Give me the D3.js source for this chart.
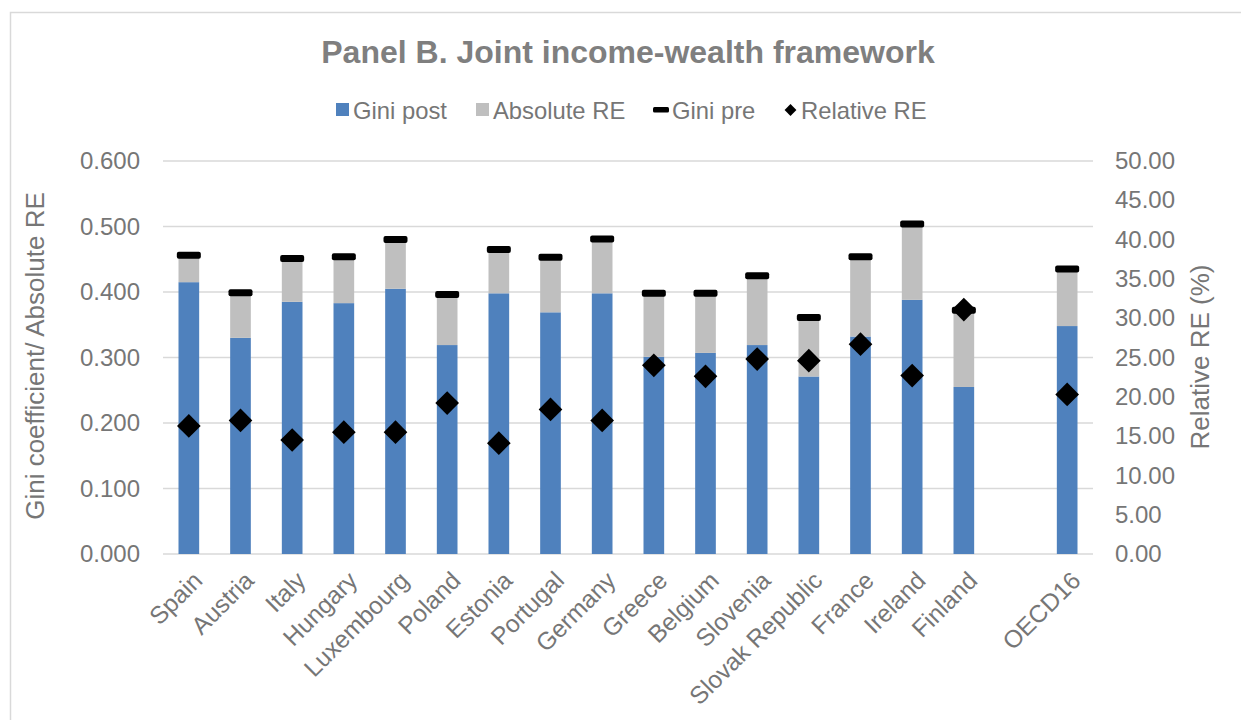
<!DOCTYPE html>
<html>
<head>
<meta charset="utf-8">
<script src="https://cdn.jsdelivr.net/npm/d3@7"></script>
<style>
  html, body { margin: 0; padding: 0; background: #fff; }
  svg { display: block; font-family: "Liberation Sans", Arial, sans-serif; }
</style>
</head>
<body>
<svg id="chart" width="1241" height="720"></svg>
<script>
// Countries (empty slot before the OECD average)
const categories = ["Spain", "Austria", "Italy", "Hungary", "Luxembourg", "Poland", "Estonia",
  "Portugal", "Germany", "Greece", "Belgium", "Slovenia", "Slovak Republic", "France",
  "Ireland", "Finland", "", "OECD16"];

// Gini coefficient after redistribution
const giniPost = [0.415, 0.330, 0.385, 0.383, 0.405, 0.319, 0.398, 0.369, 0.398, 0.301,
  0.307, 0.319, 0.271, 0.332, 0.388, 0.255, null, 0.348];

// Gini coefficient before redistribution
const giniPre = [0.456, 0.399, 0.451, 0.454, 0.480, 0.396, 0.465, 0.453, 0.481, 0.398,
  0.398, 0.425, 0.361, 0.454, 0.504, 0.372, null, 0.435];

// Absolute redistributive effect (pre minus post)
const absoluteRE = [0.041, 0.069, 0.066, 0.071, 0.075, 0.077, 0.067, 0.084, 0.083, 0.097,
  0.091, 0.106, 0.090, 0.122, 0.116, 0.117, null, 0.087];

// Relative redistributive effect, %
const relativeRE = [16.3, 17.0, 14.5, 15.5, 15.5, 19.2, 14.1, 18.4, 17.0, 24.0,
  22.6, 24.8, 24.6, 26.7, 22.7, 31.1, null, 20.3];

const leftTicks = [0, 0.1, 0.2, 0.3, 0.4, 0.5, 0.6];
const rightTicks = [0, 5, 10, 15, 20, 25, 30, 35, 40, 45, 50];

const legendItems = ["Gini post", "Absolute RE", "Gini pre", "Relative RE"];

const BLUE = "#4f81bd", GREY = "#bfbfbf", TEXT = "#767676", GRID = "#d9d9d9";
const FONT = "'Liberation Sans', Arial, sans-serif";

const svg = d3.select("#chart");

// Chart frame
svg.append("rect")
  .attr("x", 10.5).attr("y", 12.5)
  .attr("width", 1260).attr("height", 760)
  .attr("fill", "#fff").attr("stroke", "#d9d9d9").attr("stroke-width", 1.5);

const plot = { left: 163, right: 1093, top: 161, bottom: 554 };

const x = d3.scaleBand()
  .domain(d3.range(categories.length))
  .range([plot.left, plot.right])
  .paddingInner(0.6).paddingOuter(0.3);

const yL = d3.scaleLinear().domain([0, 0.6]).range([plot.bottom, plot.top]);
const yR = d3.scaleLinear().domain([0, 50]).range([plot.bottom, plot.top]);

// Gridlines
svg.append("g")
  .selectAll("line")
  .data(leftTicks)
  .join("line")
  .attr("x1", plot.left).attr("x2", plot.right)
  .attr("y1", d => yL(d)).attr("y2", d => yL(d))
  .attr("stroke", GRID).attr("stroke-width", 1.5);

// Left axis
const axisL = svg.append("g")
  .attr("transform", `translate(${plot.left},0)`)
  .call(d3.axisLeft(yL).tickValues(leftTicks).tickFormat(d3.format(".3f")).tickSize(0).tickPadding(23));
axisL.select(".domain").remove();
axisL.selectAll("text").attr("fill", TEXT).style("font-size", "24px").style("font-family", FONT);

// Right axis
const axisR = svg.append("g")
  .attr("transform", `translate(${plot.right},0)`)
  .call(d3.axisRight(yR).tickValues(rightTicks).tickFormat(d3.format(".2f")).tickSize(0).tickPadding(22));
axisR.select(".domain").remove();
axisR.selectAll("text").attr("fill", TEXT).style("font-size", "24px").style("font-family", FONT);

// Category labels
const xAxis = svg.append("g")
  .attr("transform", `translate(0,${plot.bottom})`)
  .call(d3.axisBottom(x).tickFormat(i => categories[i]).tickSize(0));
xAxis.select(".domain").remove();
xAxis.selectAll("text")
  .attr("fill", TEXT)
  .style("font-size", "24.5px")
  .style("font-family", FONT)
  .attr("text-anchor", "end")
  .attr("dy", null).attr("y", 0)
  .attr("transform", "translate(15,28) rotate(-45)");

const idx = d3.range(categories.length).filter(i => giniPost[i] != null);

// Stacked bars: Gini post + Absolute RE
svg.append("g").selectAll("rect")
  .data(idx).join("rect")
  .attr("x", i => x(i)).attr("width", x.bandwidth())
  .attr("y", i => yL(giniPost[i]))
  .attr("height", i => yL(0) - yL(giniPost[i]))
  .attr("fill", BLUE);

svg.append("g").selectAll("rect")
  .data(idx).join("rect")
  .attr("x", i => x(i)).attr("width", x.bandwidth())
  .attr("y", i => yL(giniPost[i] + absoluteRE[i]))
  .attr("height", i => yL(giniPost[i]) - yL(giniPost[i] + absoluteRE[i]))
  .attr("fill", GREY);

// Gini pre markers (dash)
svg.append("g").selectAll("rect")
  .data(idx).join("rect")
  .attr("x", i => x(i) + x.bandwidth() / 2 - 12).attr("width", 24)
  .attr("y", i => yL(giniPre[i]) - 3.5).attr("height", 7)
  .attr("rx", 2)
  .attr("fill", "#000");

// Relative RE markers (diamond)
const diamond = d3.symbol().type(d3.symbolSquare).size(280);
svg.append("g").selectAll("path")
  .data(idx).join("path")
  .attr("d", diamond)
  .attr("transform", i => `translate(${x(i) + x.bandwidth() / 2},${yR(relativeRE[i])}) rotate(45)`)
  .attr("fill", "#000");

// Title
svg.append("text")
  .attr("x", 628).attr("y", 63)
  .attr("text-anchor", "middle")
  .attr("fill", "#7f7f7f")
  .style("font-size", "32px").style("font-weight", "bold")
  .text("Panel B. Joint income-wealth framework");

// Axis titles
svg.append("text")
  .attr("transform", "translate(44,356) rotate(-90)")
  .attr("text-anchor", "middle").attr("fill", TEXT)
  .style("font-size", "26px")
  .text("Gini coefficient/ Absolute RE");

svg.append("text")
  .attr("transform", "translate(1209,357) rotate(-90)")
  .attr("text-anchor", "middle").attr("fill", TEXT)
  .style("font-size", "26px")
  .text("Relative RE (%)");

// Legend
const legendX = [336, 476, 653, 784];
const lg = svg.append("g");
legendItems.forEach((name, k) => {
  const g = lg.append("g").attr("transform", `translate(${legendX[k]},110)`);
  if (k === 0 || k === 1) {
    g.append("rect").attr("x", 0).attr("y", -7).attr("width", 13).attr("height", 13)
      .attr("fill", k === 0 ? BLUE : GREY);
  } else if (k === 2) {
    g.append("rect").attr("x", 0).attr("y", -3).attr("width", 16).attr("height", 5.5)
      .attr("rx", 1.5).attr("fill", "#000");
  } else {
    g.append("path").attr("d", d3.symbol().type(d3.symbolSquare).size(70))
      .attr("transform", "translate(6.5,0) rotate(45)").attr("fill", "#000");
  }
  g.append("text")
    .attr("x", k === 2 ? 19 : 17).attr("y", 8.5)
    .attr("fill", TEXT).style("font-size", "23.8px")
    .text(name);
});
</script>
</body>
</html>
